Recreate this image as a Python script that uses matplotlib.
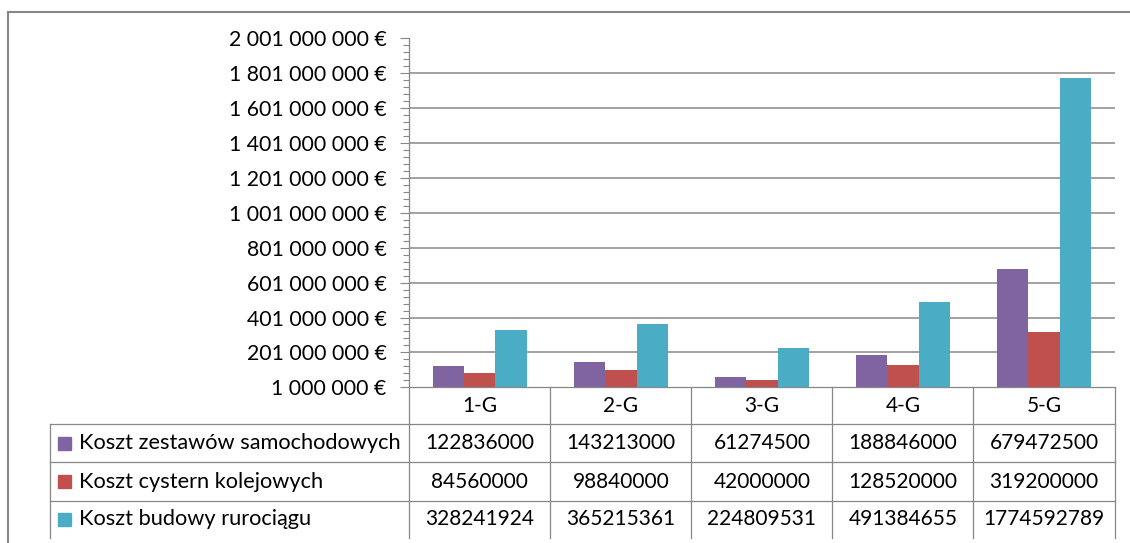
import matplotlib.pyplot as plt
import matplotlib.transforms as mtransforms
from matplotlib.lines import Line2D
from matplotlib.patches import Rectangle

categories = ["1-G", "2-G", "3-G", "4-G", "5-G"]
series_names = [
    "Koszt zestawów samochodowych",
    "Koszt cystern kolejowych",
    "Koszt budowy rurociągu",
]
truck_cost = [122836000, 143213000, 61274500, 188846000, 679472500]
rail_cost = [84560000, 98840000, 42000000, 128520000, 319200000]
pipeline_cost = [328241924, 365215361, 224809531, 491384655, 1774592789]
y_ticks = [1000000, 201000000, 401000000, 601000000, 801000000,
           1001000000, 1201000000, 1401000000, 1601000000, 1801000000,
           2001000000]

COLOURS = ["#8064A2", "#C0504D", "#4BACC6"]
GREY = "#878787"
W, H = 1130, 543


def fx(px):
    return px / W


def fy(py):
    return 1 - py / H


def euro(v):
    return f"{v:,}".replace(",", " ") + " €"


def draw_bars(ax, series):
    width = 1 / 4.5
    for k, (values, colour) in enumerate(zip(series, COLOURS)):
        xs = [i + (k - 1) * width for i in range(len(categories))]
        ax.bar(xs, values, width=width, color=colour, zorder=3)


def style_axis(ax):
    ax.set_xlim(-0.5, len(categories) - 0.5)
    ax.set_ylim(y_ticks[0], y_ticks[-1])
    ax.set_xticks([])
    ax.set_yticks(y_ticks)
    ax.set_yticklabels([euro(v) for v in y_ticks])
    step = (y_ticks[1] - y_ticks[0]) / 5
    ax.set_yticks([y_ticks[0] + step * i for i in range(51)], minor=True)
    ax.tick_params(axis="y", which="major", length=6.3, width=0.8,
                   color=GREY, pad=10, labelsize=15.3)
    ax.tick_params(axis="y", which="minor", length=4, width=0.8, color=GREY)
    for v in y_ticks[1:-1]:
        ax.axhline(v, color=GREY, lw=1.1, zorder=1)
    for side in ["top", "right"]:
        ax.spines[side].set_visible(False)
    for side in ["left", "bottom"]:
        ax.spines[side].set_color(GREY)
        ax.spines[side].set_linewidth(0.9)


def draw_table(fig, ax, series):
    trans = mtransforms.blended_transform_factory(ax.transData, fig.transFigure)
    top, bottom = 387.3, 538
    rows = [424.3, 462.3, 500.9]
    left, right = 49.7, 1114.5

    for i in range(len(categories) + 1):
        fig.add_artist(Line2D([i - 0.5, i - 0.5], [fy(top), fy(bottom)],
                              transform=trans, color=GREY, lw=0.9))
    fig.add_artist(Line2D([fx(left), fx(left)], [fy(rows[0]), fy(bottom)],
                          color=GREY, lw=0.9))
    for r in rows:
        fig.add_artist(Line2D([fx(left), fx(right)], [fy(r), fy(r)],
                              color=GREY, lw=0.9))

    for i, cat in enumerate(categories):
        fig.text(i, fy((top + rows[0]) / 2), cat, transform=trans,
                 ha="center", va="center", fontsize=15)

    edges = rows + [bottom]
    for k, (name, values) in enumerate(zip(series_names, series)):
        yc = (edges[k] + edges[k + 1]) / 2
        fig.add_artist(Rectangle((fx(58), fy(yc + 6.3)), 12.7 / W, 12.7 / H,
                                 color=COLOURS[k], transform=fig.transFigure))
        fig.text(fx(79), fy(yc), name, ha="left", va="center", fontsize=15.7)
        for i, v in enumerate(values):
            fig.text(i, fy(yc), str(v), transform=trans,
                     ha="center", va="center", fontsize=15)


def main():
    plt.rcParams["font.family"] = ["Lato", "DejaVu Sans"]
    fig = plt.figure(figsize=(W / 100, H / 100), dpi=100)

    # chart border (top and left edges visible)
    fig.add_artist(Line2D([fx(8.3), 1], [fy(11.7), fy(11.7)], color=GREY, lw=1.5))
    fig.add_artist(Line2D([fx(8.3), fx(8.3)], [fy(11.7), 0], color=GREY, lw=1.5))

    ax = fig.add_axes([fx(409.3), fy(387.3), (1114.5 - 409.3) / W,
                       (387.3 - 38.4) / H])
    series = [truck_cost, rail_cost, pipeline_cost]
    draw_bars(ax, series)
    style_axis(ax)
    draw_table(fig, ax, series)

    fig.savefig("out.png", dpi=100)


if __name__ == "__main__":
    main()
